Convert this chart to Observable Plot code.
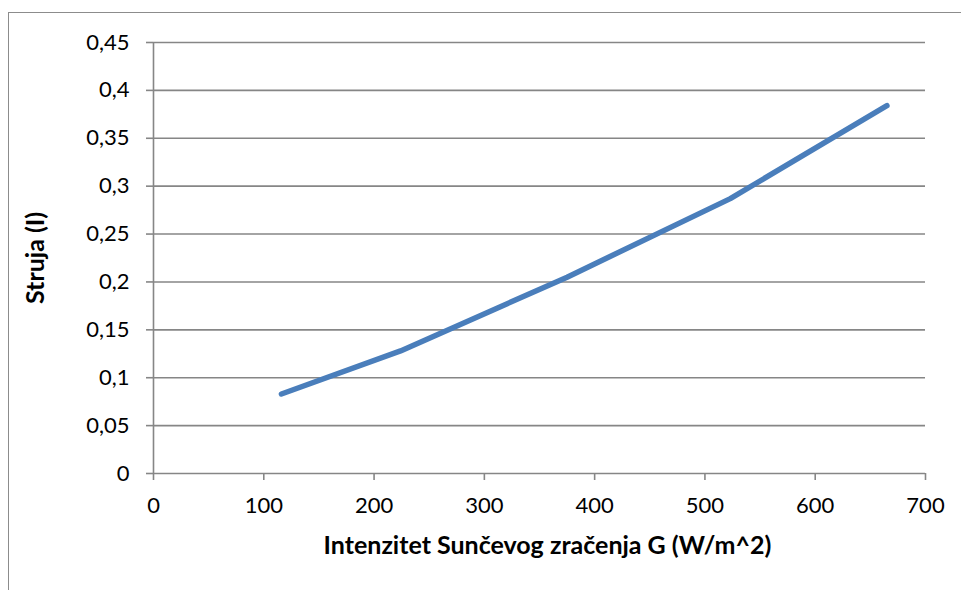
<!DOCTYPE html>
<html>
<head>
<meta charset="utf-8">
<script src="https://cdn.jsdelivr.net/npm/d3@7"></script>
<script src="https://cdn.jsdelivr.net/npm/@observablehq/plot@0.6"></script>
<style>
  html, body { margin: 0; padding: 0; background: #fff; }
  #wrap { position: relative; width: 961px; height: 590px; overflow: hidden; }
  #frame { position: absolute; left: 8px; top: 12px; width: 1000px; height: 700px; border: 1.5px solid #8c8c8c; box-sizing: border-box; }
  #chart { position: absolute; left: 0; top: 0; }
</style>
</head>
<body>
<div id="wrap"><div id="frame"></div><div id="chart"></div></div>
<script>
const irradiance = [116, 224, 375, 523, 665];
const current = [0.083, 0.128, 0.205, 0.287, 0.384];
const xTicks = [0, 100, 200, 300, 400, 500, 600, 700];
const yTicks = [0, 0.05, 0.1, 0.15, 0.2, 0.25, 0.3, 0.35, 0.4, 0.45];
const xTitle = "Intenzitet Sunčevog zračenja G (W/m^2)";
const yTitle = "Struja (I)";

const data = irradiance.map((g, i) => ({g, i: current[i]}));
const fmt = d => String(d).replace(".", ",");
const font = "Lato, 'Open Sans', sans-serif";

const chart = Plot.plot({
  width: 961,
  height: 590,
  marginLeft: 153,
  marginRight: 36,
  marginTop: 42,
  marginBottom: 117,
  style: {fontFamily: font, background: "transparent", color: "#000"},
  x: {type: "linear", domain: [0, 700], label: null},
  y: {type: "linear", domain: [0, 0.45], label: null},
  marks: [
    Plot.ruleY(yTicks, {stroke: "#868686", strokeWidth: 1.6}),
    Plot.ruleX([0], {stroke: "#868686", strokeWidth: 1.6}),
    Plot.axisY({ticks: yTicks, tickFormat: fmt, tickSize: 7, tickPadding: 17, fontSize: 22, stroke: "#868686", strokeWidth: 1.6, label: null}),
    Plot.axisX({ticks: xTicks, tickFormat: fmt, tickSize: 7, tickPadding: 17, fontSize: 22, stroke: "#868686", strokeWidth: 1.6, label: null}),
    Plot.line(data, {x: "g", y: "i", stroke: "#4a7ebb", strokeWidth: 5.5, strokeLinecap: "round", strokeLinejoin: "round"}),
    Plot.text([yTitle], {frameAnchor: "left", dx: -118, rotate: -90, fontSize: 25, fontWeight: "bold", textAnchor: "middle", fill: "#000"}),
    Plot.text([xTitle], {frameAnchor: "bottom", dy: 80, dx: 8, fontSize: 25, fontWeight: "bold", textAnchor: "middle", fill: "#000"})
  ]
});
document.getElementById("chart").appendChild(chart);
</script>
</body>
</html>
